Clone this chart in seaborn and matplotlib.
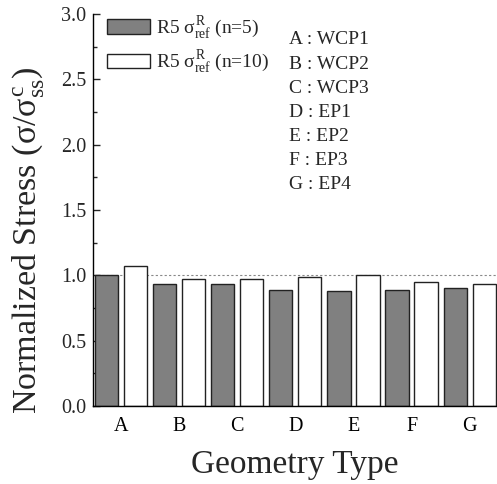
import numpy as np
import pandas as pd
import matplotlib
matplotlib.use("Agg")
import matplotlib.pyplot as plt
import seaborn as sns

categories = ["A", "B", "C", "D", "E", "F", "G"]
series_names = [r"R5 $\sigma^{R}_{ref}$ (n=5)", r"R5 $\sigma^{R}_{ref}$ (n=10)"]
values_n5 = [1.00, 0.93, 0.93, 0.89, 0.88, 0.89, 0.90]
values_n10 = [1.07, 0.97, 0.97, 0.99, 1.00, 0.95, 0.93]
geometry_names = ["WCP1", "WCP2", "WCP3", "EP1", "EP2", "EP3", "EP4"]
y_ticks = [0.0, 0.5, 1.0, 1.5, 2.0, 2.5, 3.0]

sns.set_theme(style="ticks")
plt.rcParams["font.family"] = ["Liberation Serif", "DejaVu Serif"]
plt.rcParams["mathtext.fontset"] = "custom"
plt.rcParams["mathtext.rm"] = "Liberation Serif"
plt.rcParams["mathtext.it"] = "Liberation Serif"
plt.rcParams["mathtext.bf"] = "Liberation Serif:bold"

df = pd.DataFrame({
    "Geometry": categories * 2,
    "Series": [series_names[0]] * len(categories) + [series_names[1]] * len(categories),
    "Value": values_n5 + values_n10,
})

fig = plt.figure(figsize=(4.97, 4.84), dpi=100)
ax = fig.add_axes([93 / 497, 78 / 484, 404 / 497, 392 / 484])

sns.barplot(data=df, x="Geometry", y="Value", hue="Series", order=categories,
            hue_order=series_names, palette=["#808080", "#ffffff"],
            width=1.0, gap=0.2, edgecolor="#222222", linewidth=1.0,
            ax=ax, errorbar=None)

ax.axhline(1.0, color="#888888", linestyle=(0, (2, 2)), linewidth=0.8, zorder=0)

ax.set_ylim(0, 3.0)
ax.set_xlim(-0.48, 6.47)
ax.set_yticks(y_ticks)
ax.set_yticklabels([f"{t:.1f}" for t in y_ticks])
ax.set_yticks(np.arange(0.25, 3.0, 0.5), minor=True)
ax.set_xticks(np.arange(len(categories)))
ax.set_xticklabels(categories)
bar_centers = np.concatenate([np.arange(len(categories)) - 0.25,
                              np.arange(len(categories)) + 0.25])
ax.set_xticks(bar_centers, minor=True)

ax.tick_params(axis="x", which="major", length=0, labelsize=14.5, pad=8, colors="black")
ax.tick_params(axis="x", which="minor", direction="in", length=4, width=1, color="black")
ax.tick_params(axis="y", which="major", direction="in", length=5, width=1, labelsize=14.5, pad=5)
ax.tick_params(axis="y", which="minor", direction="in", length=3, width=1)

sns.despine(ax=ax)
for s in ["left", "bottom"]:
    ax.spines[s].set_linewidth(1.0)
    ax.spines[s].set_color("black")

ax.set_xlabel("Geometry Type", fontsize=24, labelpad=10)
ax.set_ylabel(r"Normalized Stress ($\sigma/\sigma^{c}_{ss}$)", fontsize=24.5, labelpad=11)
ax.yaxis.label.set_y(0.423)

leg = ax.legend(loc="upper left", bbox_to_anchor=((107 - 93) / 404, (406 - 14) / 392),
                frameon=False, fontsize=14, handlelength=2.2, handleheight=0.75,
                labelspacing=0.4, handletextpad=0.3, borderaxespad=0.0, borderpad=0.0)

for i, (c, g) in enumerate(zip(categories, geometry_names)):
    ax.text(0.485, 0.934 - i * 0.0617, f"{c} : {g}", transform=ax.transAxes,
            fontsize=14, va="center", ha="left")

fig.savefig("out.png", dpi=100)
